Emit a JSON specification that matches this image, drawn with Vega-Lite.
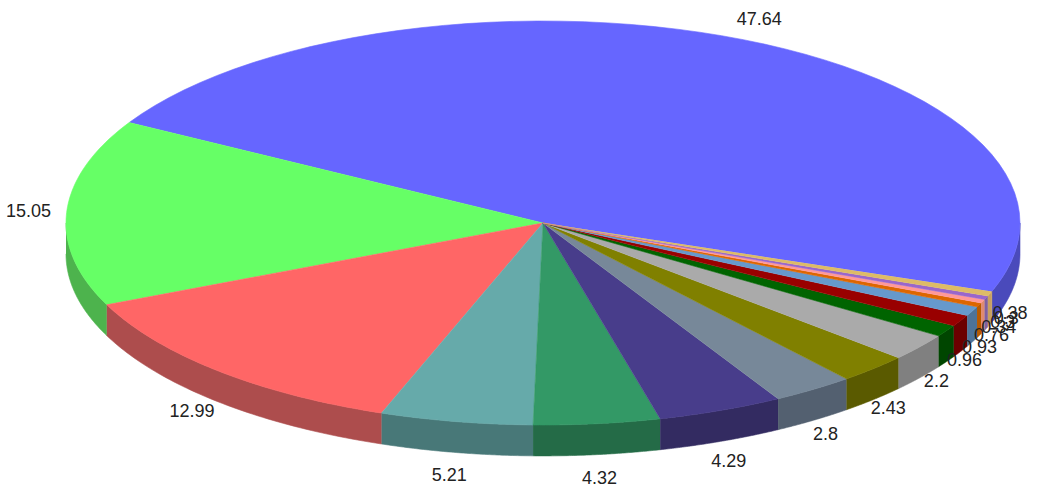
{
"$schema":"https://vega.github.io/schema/vega-lite/v6.json",
"width":1041,"height":487,"autosize":{"type":"none"},"padding":0,
"background":"white",
"config":{"view":{"stroke":null}},
"data":{"values":[
{"n":1,"slice":"a","value":47.64},
{"n":2,"slice":"b","value":15.05},
{"n":3,"slice":"c","value":12.99},
{"n":4,"slice":"d","value":5.21},
{"n":5,"slice":"e","value":4.32},
{"n":6,"slice":"f","value":4.29},
{"n":7,"slice":"g","value":2.8},
{"n":8,"slice":"h","value":2.43},
{"n":9,"slice":"i","value":2.2},
{"n":10,"slice":"j","value":0.96},
{"n":11,"slice":"k","value":0.93},
{"n":12,"slice":"l","value":0.76},
{"n":13,"slice":"m","value":0.34},
{"n":14,"slice":"n","value":0.3},
{"n":15,"slice":"o","value":0.3},
{"n":16,"slice":"p","value":0.38}
]},
"transform":[
{"window":[{"op":"sum","field":"value","as":"cum"}],"sort":[{"field":"n","order":"ascending"}],"frame":[null,0]},
{"joinaggregate":[{"op":"sum","field":"value","as":"total"}]},
{"calculate":"-19.8+360*(datum.cum-datum.value)/datum.total","as":"a0"},
{"calculate":"-19.8+360*datum.cum/datum.total","as":"a1"}
],
"resolve":{"scale":{"color":"independent","stroke":"independent"}},
"layer":[
{
"transform":[
{"calculate":"datum.a0<0?datum.a0:max(datum.a0,180)","as":"lo"},
{"calculate":"datum.a0<0?0:datum.a1","as":"hi"},
{"calculate":"sequence(0,122)","as":"k"},{"flatten":["k"]},
{"calculate":"(datum.k<=60?datum.lo+(datum.hi-datum.lo)*datum.k/60:datum.hi+(datum.lo-datum.hi)*(datum.k-61)/60)*PI/180","as":"ang"},
{"calculate":"cos(datum.ang)","as":"px"},
{"calculate":"sin(datum.ang)-(datum.k<=60?0:0.153)","as":"py"}
],
"mark":{"type":"line","filled":true,"strokeWidth":0.6,"interpolate":"linear"},
"encoding":{
"x":{"field":"px","type":"quantitative","axis":null,"scale":{"domain":[-1.13836,1.04403],"nice":false,"zero":false}},
"y":{"field":"py","type":"quantitative","axis":null,"scale":{"domain":[-1.30693,1.10396],"nice":false,"zero":false}},
"order":{"field":"k","type":"quantitative"},
"color":{"field":"slice","type":"nominal","legend":null,"scale":{"domain":["a","b","c","d","e","f","g","h","i","j","k","l","m","n","o","p"],"range":["#4A4ABB","#4DB34D","#AD4D4D","#487878","#246B47","#332B61","#536070","#5A5A00","#808080","#004600","#6B0000","#4D7399","#B85A00","#E08A70","#8060A0","#C8A060"]}},
"stroke":{"field":"slice","type":"nominal","legend":null,"scale":{"domain":["a","b","c","d","e","f","g","h","i","j","k","l","m","n","o","p"],"range":["#4A4ABB","#4DB34D","#AD4D4D","#487878","#246B47","#332B61","#536070","#5A5A00","#808080","#004600","#6B0000","#4D7399","#B85A00","#E08A70","#8060A0","#C8A060"]}}
}
},
{
"transform":[
{"calculate":"sequence(0,62)","as":"k"},{"flatten":["k"]},
{"calculate":"(datum.a0+(datum.a1-datum.a0)*(datum.k-1)/60)*PI/180","as":"ang"},
{"calculate":"datum.k==0?0:cos(datum.ang)","as":"px"},
{"calculate":"datum.k==0?0:sin(datum.ang)","as":"py"}
],
"mark":{"type":"line","filled":true,"strokeWidth":0.6,"interpolate":"linear"},
"encoding":{
"x":{"field":"px","type":"quantitative","axis":null},
"y":{"field":"py","type":"quantitative","axis":null},
"order":{"field":"k","type":"quantitative"},
"color":{"field":"slice","type":"nominal","legend":null,"scale":{"domain":["a","b","c","d","e","f","g","h","i","j","k","l","m","n","o","p"],"range":["#6666FF","#66FF66","#FF6666","#66AAAA","#339966","#483D8B","#778899","#808000","#AAAAAA","#006400","#990000","#6699CC","#DD6600","#FF9999","#9966CC","#DDBB66"]}},
"stroke":{"field":"slice","type":"nominal","legend":null,"scale":{"domain":["a","b","c","d","e","f","g","h","i","j","k","l","m","n","o","p"],"range":["#6666FF","#66FF66","#FF6666","#66AAAA","#339966","#483D8B","#778899","#808000","#AAAAAA","#006400","#990000","#6699CC","#DD6600","#FF9999","#9966CC","#DDBB66"]}}
}
},
{
"transform":[
{"calculate":"(datum.a0+datum.a1)/2*PI/180","as":"mid"},
{"calculate":"((cos(datum.mid)<0||sin(datum.mid)>0)?1.08:1.045)*cos(datum.mid)","as":"px"},
{"calculate":"(sin(datum.mid)>0?1.11:1.27)*sin(datum.mid)","as":"py"}
],
"mark":{"type":"text","font":"Liberation Sans","fontSize":18,"color":"#222222","align":"center","baseline":"middle","dy":1},
"encoding":{
"x":{"field":"px","type":"quantitative","axis":null},
"y":{"field":"py","type":"quantitative","axis":null},
"text":{"field":"value","type":"nominal"}
}
}
]
}
